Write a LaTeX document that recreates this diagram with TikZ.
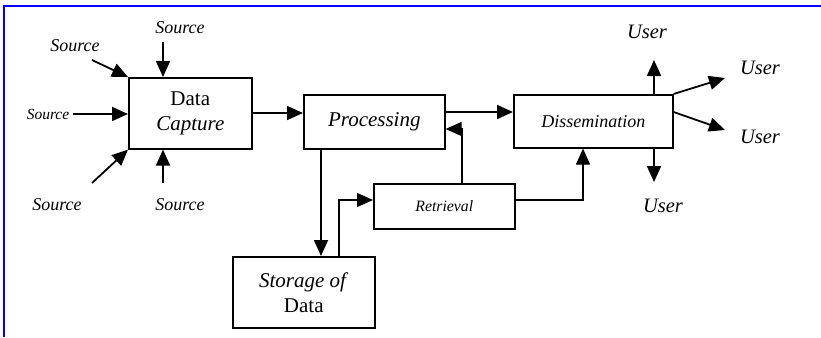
\documentclass[tikz,border=0pt]{standalone}
\usepackage{fontspec}
\setmainfont{Liberation Serif}
\usetikzlibrary{arrows.meta}
\tikzset{
  box/.style={draw, line width=1.6pt, minimum height=#1, inner sep=0pt, align=center, anchor=north west},
  box/.default=54pt,
  flow/.style={line width=1.8pt, -{Triangle[length=16pt,width=14pt]}},
  back/.style={line width=1.2pt, -{Triangle[length=16pt,width=14pt]}},
  src/.style={font=\fontsize{18}{18}\selectfont\itshape},
  usr/.style={font=\fontsize{20.5}{20.5}\selectfont\itshape}
}
\begin{document}
\begin{tikzpicture}[x=1pt,y=-1pt]
	\useasboundingbox (0,0) rectangle (821,337);
	\draw[blue, line width=2pt] (4,337) -- (4,6) -- (821,6);
	
	\node[box=71pt, minimum width=123pt, font=\fontsize{21}{25}\selectfont] (capture) at (128,77) {Data\\ \textit{Capture}};
	\node[box, minimum width=141pt, font=\fontsize{21}{21}\selectfont\itshape] (proc) at (303,94) {Processing};
	\node[box=53pt, minimum width=159pt, font=\fontsize{18}{18}\selectfont\itshape] (diss) at (513,94) {Dissemination};
	\node[box=45pt, minimum width=141pt, font=\fontsize{15.8}{16}\selectfont\itshape] (retr) at (373,183) {Retrieval};
	\node[box=71pt, minimum width=142pt, font=\fontsize{21}{25}\selectfont] (store) at (232,256) {\textit{Storage of}\\ Data};
	
	\node[src] (s1) at (75,46) {Source};
	\node[src] (s2) at (180,28) {Source};
	\node[src, font=\fontsize{15.5}{15.5}\selectfont\itshape] (s3) at (48,114) {Source};
	\node[src] (s4) at (57,205) {Source};
	\node[src] (s5) at (180,205) {Source};
	
	\node[usr] (u1) at (647,32) {User};
	\node[usr] (u2) at (760,68) {User};
	\node[usr] (u3) at (760,137) {User};
	\node[usr] (u4) at (663,206) {User};
	
	\coordinate (c1) at (92,60);
	\coordinate (c2) at (163,42);
	\coordinate (c4) at (92,183);
	\coordinate (c5) at (163,183);
	\coordinate (d1) at (654,60);
	\coordinate (d2) at (725,78);
	\coordinate (d3) at (725,130);
	\coordinate (d4) at (654,182);
	
	% sources into capture
	\draw[flow] (c1) -- (capture.north west);
	\draw[flow] (c2) -- (c2 |- capture.north);
	\draw[flow] (s3.east) -- (s3.east -| capture.west);
	\draw[flow] (c4) -- (capture.south west);
	\draw[flow] (c5) -- (c5 |- capture.south);
	
	% main flow
	\draw[flow] (capture.east |- 0,113) -- (proc.west |- 0,113);
	\draw[flow] (proc.east |- 0,112) -- (diss.west |- 0,112);
	\draw[flow] (proc.south -| 321,0) -- (store.north -| 321,0);
	\draw[back] (store.north -| 339,0) |- (retr.west |- 0,200);
	\draw[back] (retr.north -| 462,0) |- (proc.east |- 0,129);
	\draw[back] (retr.east |- 0,200) -| (diss.south -| 583,0);
	
	% out to users
	\draw[flow] (diss.north -| d1) -- (d1);
	\draw[flow] (diss.north east) -- (d2);
	\draw[flow] (diss.east |- 0,112) -- (d3);
	\draw[flow] (diss.south -| d4) -- (d4);
\end{tikzpicture}
\end{document}
